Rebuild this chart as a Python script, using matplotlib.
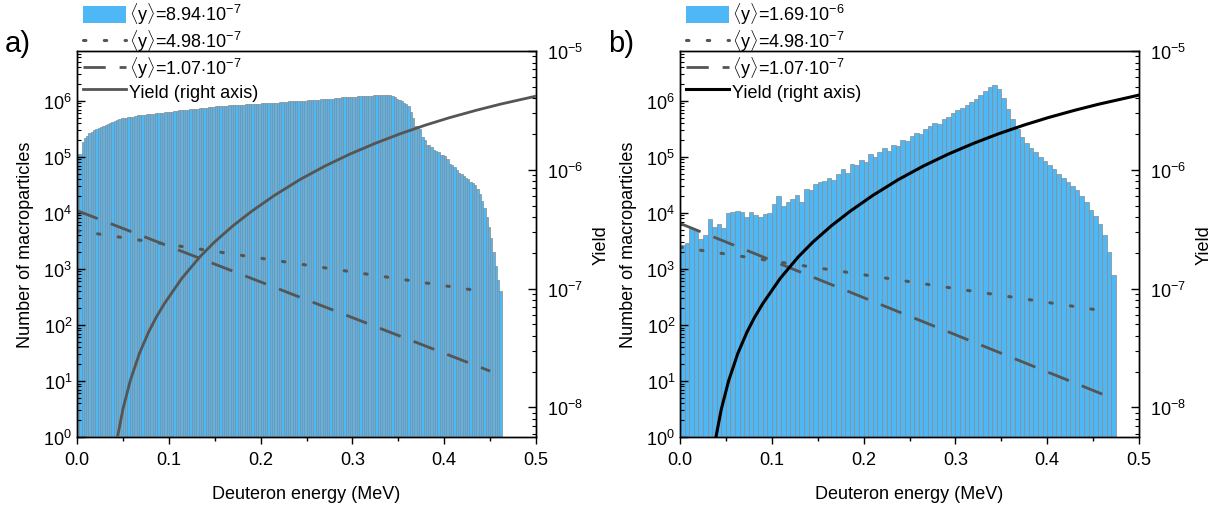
import numpy as np
import matplotlib
matplotlib.use("Agg")
import matplotlib.pyplot as plt
from matplotlib.patches import Patch
from matplotlib.lines import Line2D
from matplotlib.ticker import LogLocator, NullFormatter

plt.rcParams['font.family'] = ['Liberation Sans', 'DejaVu Sans']
plt.rcParams['mathtext.fontset'] = 'custom'
plt.rcParams['mathtext.rm'] = 'Liberation Sans'
plt.rcParams['mathtext.it'] = 'Liberation Sans:italic'
plt.rcParams['mathtext.fallback'] = 'cm'
plt.rcParams['font.size'] = 13

# --- panel a histogram: bin width 0.0025 MeV, values as log10(count)
bin_a = 0.0025
log_counts_a = [
    5.05, 5.05, 5.27, 5.33, 5.38, 5.42, 5.45, 5.48, 5.50, 5.52,
    5.53, 5.55, 5.57, 5.59, 5.61, 5.63, 5.64, 5.66, 5.68,
    5.69, 5.70, 5.70, 5.71, 5.72, 5.72, 5.73, 5.74, 5.74, 5.75, 5.75, 5.76, 5.76, 5.77,
    5.77, 5.78, 5.78, 5.79, 5.79, 5.80, 5.80, 5.81, 5.81, 5.82, 5.82, 5.83, 5.83,
    5.83, 5.84, 5.84, 5.85, 5.85, 5.86, 5.86, 5.87, 5.87, 5.88, 5.88, 5.89, 5.89,
    5.89, 5.90, 5.90, 5.90, 5.91, 5.91, 5.91, 5.92, 5.92,
    5.92, 5.92, 5.93, 5.93, 5.93, 5.94, 5.94, 5.94, 5.95, 5.95, 5.95, 5.95, 5.96, 5.96,
    5.96, 5.96, 5.97, 5.97, 5.97, 5.97, 5.98, 5.98, 5.98, 5.98, 5.99, 5.99, 5.99, 5.99,
    6.00, 6.00, 6.00, 6.00, 6.01, 6.01,
    6.01, 6.02, 6.02, 6.02, 6.03, 6.03, 6.03, 6.04, 6.04, 6.04, 6.05, 6.05, 6.05, 6.06,
    6.06, 6.06, 6.07, 6.07, 6.07, 6.07, 6.08, 6.08, 6.08, 6.08, 6.09, 6.09, 6.09, 6.10,
    6.10, 6.10, 6.10, 6.11, 6.11,
    6.11, 6.11, 6.08, 6.06, 6.03, 6.01, 5.99, 5.97, 5.95, 5.90, 5.80, 5.70, 5.56, 5.56,
    5.50, 5.35, 5.30, 5.22, 5.21, 5.18, 5.12, 5.11, 5.08, 5.04, 5.03, 5.02, 4.97, 4.88,
    4.85, 4.82, 4.76, 4.72, 4.70, 4.66, 4.63, 4.60, 4.56, 4.54, 4.49, 4.42, 4.33, 4.22,
    4.08, 3.92, 3.75, 3.55, 3.30, 3.05, 2.80, 2.60,
]

# --- panel b histogram: bin width 0.005 MeV, values as log10(count)
bin_b = 0.005
log_counts_b = [
    3.42, 3.47, 3.73, 3.70, 3.54, 3.60, 3.90, 3.75, 3.80, 3.73,
    4.00, 4.02, 4.04, 4.01, 3.93, 4.01, 3.96, 3.93, 3.98, 4.00,
    4.16, 4.30, 4.13, 4.20, 4.25, 4.32, 4.20, 4.43, 4.40, 4.52,
    4.55, 4.57, 4.62, 4.58, 4.70, 4.78, 4.72, 4.88, 4.85, 4.95,
    4.90, 5.05, 5.00, 5.08, 5.15, 5.10, 5.22, 5.20, 5.30, 5.28,
    5.38, 5.42, 5.40, 5.50, 5.55, 5.60, 5.58, 5.68, 5.72, 5.78,
    5.83, 5.88, 5.92, 5.98, 6.04, 6.10, 6.17, 6.25, 6.29, 6.22,
    6.05, 5.85, 5.68, 5.50, 5.35, 5.25, 5.15, 5.08, 5.00, 4.92,
    4.85, 4.78, 4.70, 4.62, 4.55, 4.48, 4.40, 4.30, 4.20, 4.05,
    3.95, 3.80, 3.60, 3.30, 2.90,
]

# exponential reference spectra (energy, count)
dotted_a_E = [0.0, 0.445]
dotted_a_N = [4.8e3, 3.9e2]
dashed_a_E = [0.0, 0.45]
dashed_a_N = [1.1e4, 15]
dotted_b_E = [0.0, 0.47]
dotted_b_N = [2.45e3, 1.7e2]
dashed_b_E = [0.0, 0.47]
dashed_b_N = [6.5e3, 5.0]

# yield curves (energy, log10 yield) for the right axis
yield_a_E = [0.044, 0.050, 0.058, 0.068, 0.078, 0.086, 0.095, 0.114, 0.134, 0.150, 0.170,
             0.190, 0.215, 0.243, 0.270, 0.297, 0.325, 0.352, 0.380, 0.406, 0.435, 0.461, 0.5]
yield_a_logY = [-8.256, -8.016, -7.776, -7.546, -7.366, -7.246, -7.129, -6.916, -6.732,
                -6.607, -6.471, -6.351, -6.216, -6.082, -5.969, -5.869, -5.777, -5.697,
                -5.623, -5.561, -5.499, -5.448, -5.38]
yield_b_E = [0.039, 0.045, 0.053, 0.063, 0.073, 0.081, 0.090, 0.109, 0.129, 0.145, 0.165,
             0.185, 0.210, 0.238, 0.265, 0.292, 0.320, 0.347, 0.375, 0.401, 0.430, 0.456,
             0.495, 0.5]
yield_b_logY = [-8.256, -8.016, -7.776, -7.546, -7.366, -7.246, -7.129, -6.916, -6.732,
                -6.607, -6.471, -6.351, -6.216, -6.082, -5.969, -5.869, -5.777, -5.697,
                -5.623, -5.561, -5.499, -5.448, -5.38, -5.371]

legend_a = [r'$\langle$y$\rangle$=8.94$\cdot$10$^{-7}$', r'$\langle$y$\rangle$=4.98$\cdot$10$^{-7}$',
            r'$\langle$y$\rangle$=1.07$\cdot$10$^{-7}$', 'Yield (right axis)']
legend_b = [r'$\langle$y$\rangle$=1.69$\cdot$10$^{-6}$', r'$\langle$y$\rangle$=4.98$\cdot$10$^{-7}$',
            r'$\langle$y$\rangle$=1.07$\cdot$10$^{-7}$', 'Yield (right axis)']

bar_color = '#4db8f5'
edge_color = '#8a8a8a'
line_gray = '#555555'
dot_style = (0, (0.8, 6))
dash_style = (0, (8, 5))

fig = plt.figure(figsize=(12.17, 5.10), dpi=100)
W, H = 1217, 510


def make_panel(left_px, counts_log, bw, dot_E, dot_N, dash_E, dash_N, yE, ylog,
               ycolor, ylw, labels, letter):
    ax = fig.add_axes([left_px / W, 1 - 438 / H, 459 / W, 386 / H])
    counts = 10 ** np.array(counts_log)
    edges = np.arange(len(counts)) * bw
    ax.bar(edges, counts, width=bw, align='edge', color=bar_color,
           edgecolor=edge_color, linewidth=0.5, zorder=1)
    ax.plot(dot_E, dot_N, color=line_gray, lw=2.2, ls=dot_style,
            dash_capstyle='round', zorder=3)
    ax.plot(dash_E, dash_N, color=line_gray, lw=2.0, ls=dash_style, zorder=3)
    ax.set_yscale('log')
    ax.set_ylim(1, 10 ** 6.89)
    ax.set_xlim(0, 0.5)
    ax.set_xticks([0, 0.1, 0.2, 0.3, 0.4, 0.5])
    ax.set_xticks([0.05, 0.15, 0.25, 0.35, 0.45], minor=True)
    ax.set_xticklabels(['0.0', '0.1', '0.2', '0.3', '0.4', '0.5'])
    ax.set_yticks([10 ** k for k in range(7)])
    ax.set_yticklabels(['10$^{%d}$' % k for k in range(7)])
    ax.yaxis.set_minor_locator(LogLocator(base=10, subs=np.arange(2, 10), numticks=20))
    ax.yaxis.set_minor_formatter(NullFormatter())
    ax.tick_params(axis='x', which='both', direction='out', top=False)
    ax.tick_params(axis='x', which='major', length=5, width=1, pad=5)
    ax.tick_params(axis='x', which='minor', length=3, width=1)
    ax.tick_params(axis='y', which='major', direction='in', length=6, width=1)
    ax.tick_params(axis='y', which='minor', direction='in', length=3, width=0.8)
    ax.tick_params(labelsize=13)
    ax.set_xlabel('Deuteron energy (MeV)', fontsize=13, labelpad=12)
    ax.set_ylabel('Number of macroparticles', fontsize=13, labelpad=7)

    ax2 = ax.twinx()
    ax2.plot(yE, 10 ** np.array(ylog), color=ycolor, lw=ylw, zorder=4)
    ax2.set_yscale('log')
    ax2.set_ylim(10 ** -8.25, 1e-5)
    ax2.set_yticks([1e-8, 1e-7, 1e-6, 1e-5])
    ax2.set_yticklabels(['10$^{-8}$', '10$^{-7}$', '10$^{-6}$', '10$^{-5}$'])
    ax2.yaxis.set_minor_locator(LogLocator(base=10, subs=np.arange(2, 10), numticks=20))
    ax2.yaxis.set_minor_formatter(NullFormatter())
    ax2.tick_params(axis='y', which='major', direction='in', length=6, width=1,
                    labelsize=13, pad=8)
    ax2.tick_params(axis='y', which='minor', direction='in', length=3, width=0.8)
    ax2.set_ylabel('Yield', fontsize=13, labelpad=7)
    for a in (ax, ax2):
        for s in a.spines.values():
            s.set_linewidth(1.0)

    handles = [
        Patch(facecolor=bar_color, edgecolor='none'),
        Line2D([], [], color=line_gray, lw=2.2, ls=dot_style, dash_capstyle='round'),
        Line2D([], [], color=line_gray, lw=2.0, ls=dash_style),
        Line2D([], [], color=ycolor, lw=ylw),
    ]
    fig.legend(handles, labels, loc='upper left',
               bbox_to_anchor=((left_px + 4) / W, 1.0), frameon=False,
               fontsize=13, handlelength=2.4, handleheight=1.1, handletextpad=0.15,
               labelspacing=0.08, borderpad=0.1, borderaxespad=0)
    fig.text((left_px - 72) / W, 1 - 44 / H, letter, fontsize=21, va='center', ha='left')
    return ax


make_panel(77, log_counts_a, bin_a, dotted_a_E, dotted_a_N, dashed_a_E, dashed_a_N,
           yield_a_E, yield_a_logY, line_gray, 2.0, legend_a, 'a)')
make_panel(680, log_counts_b, bin_b, dotted_b_E, dotted_b_N, dashed_b_E, dashed_b_N,
           yield_b_E, yield_b_logY, 'black', 2.2, legend_b, 'b)')

fig.savefig('out.png', dpi=100)
